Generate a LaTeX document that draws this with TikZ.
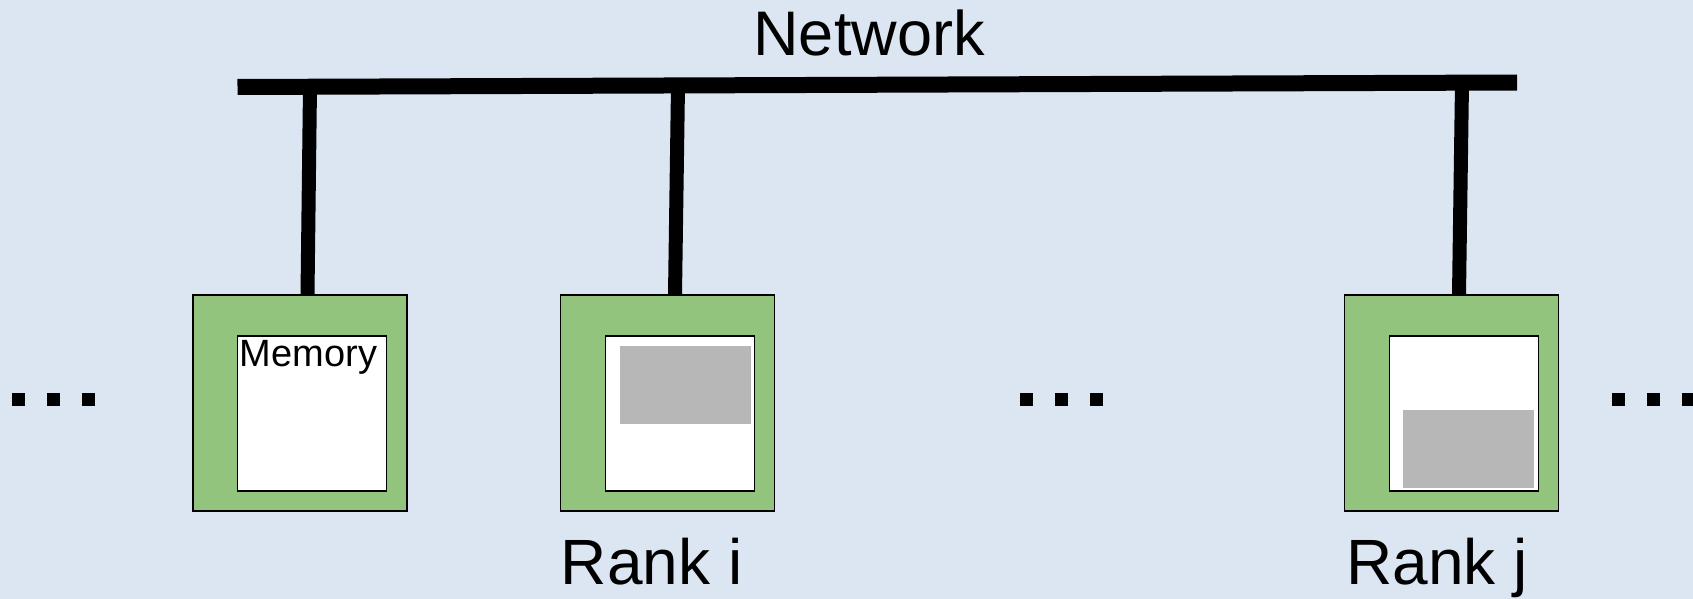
\documentclass[tikz,border=0pt]{standalone}
\usepackage{fontspec}
\setmainfont{Liberation Sans}
\usetikzlibrary{calc}

\definecolor{bgblue}{HTML}{DCE6F2}
\definecolor{nodegreen}{HTML}{93C47D}
\definecolor{usedgray}{HTML}{B7B7B7}

\tikzset{
  rankbox/.style={draw, rectangle, fill=nodegreen, line width=1.5pt,
    minimum width=214pt, minimum height=216pt, inner sep=0pt},
  membox/.style={draw, rectangle, fill=white, line width=1.5pt,
    minimum width=149pt, minimum height=155pt, inner sep=0pt},
  usedbox/.style={rectangle, fill=usedgray, minimum width=131pt,
    minimum height=78pt, inner sep=0pt},
  bus/.style={line width=16pt},
  link/.style={line width=14pt},
  dotbox/.style={rectangle, fill=black, minimum size=13pt, inner sep=0pt},
  biglabel/.style={font=\fontsize{63}{70}\selectfont, inner sep=0pt, anchor=base},
}

\begin{document}
\begin{tikzpicture}[x=1pt, y=-1pt]
  \fill[bgblue] (0,0) rectangle (1693,599);
  \useasboundingbox (0,0) rectangle (1693,599);

  % the shared network
  \coordinate (busL) at (237.5,87);
  \coordinate (busR) at (1517,82.5);
  \draw[bus] (busL) -- (busR);
  \node[biglabel] (network) at (869,56) {Network};

  % ranks with their memories
  \node[rankbox] (rank1) at (300,403) {};
  \node[rankbox] (ranki) at (667.5,403) {};
  \node[rankbox] (rankj) at (1451.5,403) {};

  \node[membox] (mem1) at ([shift={(12,10.5)}]rank1.center) {};
  \node[membox] (memi) at ([shift={(12.7,10.5)}]ranki.center) {};
  \node[membox] (memj) at ([shift={(12.5,10.5)}]rankj.center) {};

  \node[anchor=north west, inner xsep=3pt, inner ysep=5pt,
    font=\fontsize{38}{40}\selectfont] (memlabel) at (mem1.north west) {Memory};

  \node[usedbox] (usedi) at ([shift={(4.8,-28.5)}]memi.center) {};
  \node[usedbox] (usedj) at ([shift={(4.4,35.5)}]memj.center) {};

  \node[biglabel, font=\fontsize{64}{70}\selectfont] (labeli) at (651.6,584) {Rank i};
  \node[biglabel, font=\fontsize{64}{70}\selectfont] (labelj) at (1437,584) {Rank j};

  % taps from the network down to each rank
  \coordinate (tap1) at (310,86.7);
  \coordinate (tapi) at (678,85.5);
  \coordinate (tapj) at (1462,82.7);
  \draw[link] (tap1) -- ([xshift=7.5pt]rank1.north);
  \draw[link] (tapi) -- ([xshift=7.5pt]ranki.north);
  \draw[link] (tapj) -- ([xshift=7.5pt]rankj.north);

  % more ranks in between
  \foreach \x [count=\i] in {18.5,53.5,88.5,1026.5,1061.5,1096.5,1618.5,1653.5,1688.5}
    \node[dotbox] (dot\i) at (\x,399.5) {};
\end{tikzpicture}
\end{document}
